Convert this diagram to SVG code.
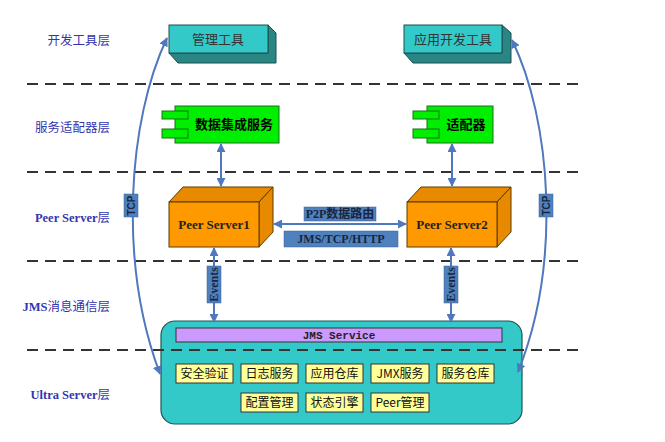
<svg xmlns="http://www.w3.org/2000/svg" width="665" height="442" viewBox="0 0 665 442">
<style>
.layer{font-family:"Liberation Serif","Noto Sans CJK SC",serif;font-size:12.5px;fill:#3535AE;text-anchor:end}
.b{font-weight:bold}
.dash{stroke:#333;stroke-width:2;stroke-dasharray:11 7;fill:none}
.conn{stroke:#4F78BE;stroke-width:2;fill:none}
.cyanF{fill:#33C9C9;stroke:#1F4F4F;stroke-width:1}
.cyanS{fill:#2A8585;stroke:#1F4F4F;stroke-width:1}
.green{fill:#00EE00;stroke:#187018;stroke-width:1}
.orF{fill:#FF9900;stroke:#5A3A00;stroke-width:1}
.orS{fill:#E88A00;stroke:#5A3A00;stroke-width:1}
.lbl{fill:#4F81BD;stroke:#3B5F99;stroke-width:0.5}
.lblt{font-family:"Liberation Serif","Noto Sans CJK SC",serif;font-weight:bold;font-size:12px;fill:#1A2540;text-anchor:middle}
.yel{fill:#FFFF99;stroke:#333;stroke-width:1}
.yt{font-family:"Noto Sans CJK SC","Liberation Sans",sans-serif;font-size:12px;fill:#111;text-anchor:middle}
.ct{font-family:"Noto Sans CJK SC","Liberation Sans",sans-serif;font-size:13px;text-anchor:middle}
</style>
<defs>
<marker id="ah" viewBox="0 0 10 10" refX="9" refY="5" markerWidth="4.5" markerHeight="4.5" orient="auto-start-reverse">
<path d="M0,0 L10,5 L0,10 z" fill="#4F78BE"/>
</marker>
</defs>
<rect width="665" height="442" fill="#fff"/>

<g id="layers">
<text class="layer" x="110" y="45">开发工具层</text>
<text class="layer" x="110" y="132">服务适配器层</text>
<text class="layer" x="110" y="222"><tspan class="b">Peer Server</tspan>层</text>
<text class="layer" x="110" y="311"><tspan class="b">JMS</tspan>消息通信层</text>
<text class="layer" x="110" y="399"><tspan class="b">Ultra Server</tspan>层</text>
</g>

<g id="ultra-server">
<rect x="161" y="321" width="361" height="103" rx="14" fill="#33C9C9" stroke="#1F5555" stroke-width="1.2"/>
<rect x="176" y="328" width="326" height="14" fill="#CC99FF" stroke="#333" stroke-width="1"/>
<text x="339" y="339" font-family="Liberation Mono,monospace" font-size="11" font-weight="bold" fill="#222" text-anchor="middle">JMS Service</text>
<rect class="yel" x="176" y="364" width="57" height="19"/><text class="yt" x="204.5" y="378">安全验证</text>
<rect class="yel" x="241" y="364" width="57" height="19"/><text class="yt" x="269.5" y="378">日志服务</text>
<rect class="yel" x="306" y="364" width="57" height="19"/><text class="yt" x="334.5" y="378">应用仓库</text>
<rect class="yel" x="371" y="364" width="58" height="19"/><text class="yt" x="400" y="378">JMX服务</text>
<rect class="yel" x="437" y="364" width="57" height="19"/><text class="yt" x="465.5" y="378">服务仓库</text>
<rect class="yel" x="241" y="393" width="57" height="19"/><text class="yt" x="269.5" y="407">配置管理</text>
<rect class="yel" x="306" y="393" width="57" height="19"/><text class="yt" x="334.5" y="407">状态引擎</text>
<rect class="yel" x="371" y="393" width="58" height="19"/><text class="yt" x="400" y="407">Peer管理</text>
</g>

<g id="dividers">
<line class="dash" x1="27" y1="84" x2="578" y2="84"/>
<line class="dash" x1="27" y1="172" x2="578" y2="172"/>
<line class="dash" x1="27" y1="261" x2="578" y2="261"/>
<line class="dash" x1="27" y1="350" x2="578" y2="350"/>
</g>

<g id="mgmt-tool">
<path class="cyanS" d="M169,53 L178,63 L276,63 L276,33 L268,25 L268,53 Z"/>
<rect class="cyanF" x="169" y="25" width="99" height="28"/>
<text class="ct" x="218" y="44" fill="#333">管理工具</text>
</g>

<g id="app-dev-tool">
<path class="cyanS" d="M404,53 L413,63 L511,63 L511,33 L502,25 L502,53 Z"/>
<rect class="cyanF" x="404" y="25" width="98" height="28"/>
<text class="ct" x="453" y="44" fill="#333">应用开发工具</text>
</g>

<g id="data-integration">
<rect class="green" x="175" y="106" width="104" height="37"/>
<rect class="green" x="162" y="111" width="26" height="8"/>
<rect class="green" x="162" y="129" width="26" height="9"/>
<text class="ct" x="234" y="129" font-weight="bold" fill="#000">数据集成服务</text>
</g>

<g id="adapter">
<rect class="green" x="427" y="106" width="66" height="37"/>
<rect class="green" x="413" y="111" width="26" height="8"/>
<rect class="green" x="413" y="129" width="26" height="9"/>
<text class="ct" x="466" y="129" font-weight="bold" fill="#000">适配器</text>
</g>

<g id="peer-server1">
<path class="orS" d="M169,202 L183,187 L273,187 L259,202 Z"/>
<path class="orS" d="M259,202 L273,187 L273,232 L259,247 Z"/>
<rect class="orF" x="169" y="202" width="90" height="45"/>
<text x="214" y="229" font-family="Liberation Serif,serif" font-weight="bold" font-size="13" fill="#222" text-anchor="middle">Peer Server1</text>
</g>

<g id="peer-server2">
<path class="orS" d="M407,202 L421,187 L511,187 L497,202 Z"/>
<path class="orS" d="M497,202 L511,187 L511,232 L497,247 Z"/>
<rect class="orF" x="407" y="202" width="90" height="45"/>
<text x="452" y="229" font-family="Liberation Serif,serif" font-weight="bold" font-size="13" fill="#222" text-anchor="middle">Peer Server2</text>
</g>

<g id="connectors">
<path class="conn" d="M167,38 C128,120 118,262 160,374" marker-start="url(#ah)" marker-end="url(#ah)"/>
<path class="conn" d="M512,40 C551,120 562,262 518,372" marker-start="url(#ah)" marker-end="url(#ah)"/>
<line class="conn" x1="221" y1="144" x2="221" y2="186" marker-start="url(#ah)" marker-end="url(#ah)"/>
<line class="conn" x1="452" y1="144" x2="452" y2="186" marker-start="url(#ah)" marker-end="url(#ah)"/>
<line class="conn" x1="274" y1="224" x2="406" y2="224" marker-start="url(#ah)" marker-end="url(#ah)"/>
<line class="conn" x1="214" y1="248" x2="214" y2="322" marker-start="url(#ah)" marker-end="url(#ah)"/>
<line class="conn" x1="451" y1="248" x2="451" y2="322" marker-start="url(#ah)" marker-end="url(#ah)"/>
<rect class="lbl" x="304" y="207" width="72" height="14"/>
<text class="lblt" x="340" y="218" font-family="Liberation Sans,Noto Sans CJK SC,sans-serif">P2P数据路由</text>
<rect class="lbl" x="284" y="231" width="114" height="16"/>
<text class="lblt" x="341" y="243">JMS/TCP/HTTP</text>
<rect class="lbl" x="124" y="194" width="14" height="23"/>
<text transform="translate(135,205.5) rotate(-90)" font-family="Liberation Sans,sans-serif" font-size="10" font-weight="bold" fill="#1A2540" text-anchor="middle">TCP</text>
<rect class="lbl" x="539" y="194" width="14" height="23"/>
<text transform="translate(550,205.5) rotate(-90)" font-family="Liberation Sans,sans-serif" font-size="10" font-weight="bold" fill="#1A2540" text-anchor="middle">TCP</text>
<rect class="lbl" x="207" y="266" width="14" height="37"/>
<text transform="translate(218,284.5) rotate(-90)" class="lblt" font-size="11">Events</text>
<rect class="lbl" x="444" y="266" width="14" height="37"/>
<text transform="translate(455,284.5) rotate(-90)" class="lblt" font-size="11">Events</text>
</g>
</svg>
